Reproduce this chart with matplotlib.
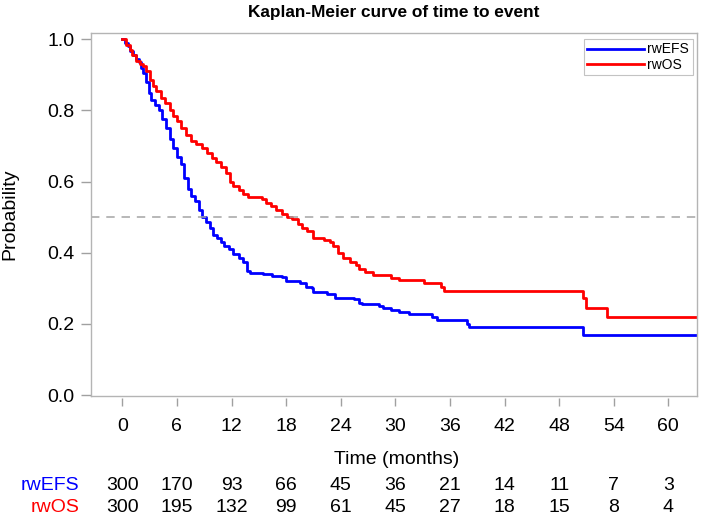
import matplotlib
matplotlib.use("Agg")
import matplotlib.pyplot as plt
import matplotlib.transforms as mtransforms
from matplotlib.lines import Line2D

plt.rcParams['font.family'] = ['Liberation Sans', 'DejaVu Sans']

# ---- data ----
efs_t = [0, 0.3, 0.6, 0.9, 1.2, 1.5, 1.8, 2.0, 2.3, 2.6, 2.9, 3.2, 3.6, 4.0, 4.4, 4.8,
         5.2, 5.6, 6.0, 6.4, 6.8, 7.2, 7.6, 8.0, 8.4, 8.8, 9.2, 9.6, 10.0, 10.4, 10.8,
         11.2, 11.7, 12.2, 12.8, 13.3, 13.7, 14.0, 15.5, 16.5, 17.6, 18.0, 19.5, 20.2,
         20.8, 21.0, 22.5, 23.4, 25.5, 26.0, 26.3, 28.2, 28.7, 29.5, 30.4, 31.5, 34.0,
         34.6, 37.9, 38.1, 50.6, 63.2]
efs_s = [1.0, 0.99, 0.98, 0.967, 0.955, 0.945, 0.935, 0.92, 0.905, 0.88, 0.85, 0.83,
         0.815, 0.80, 0.775, 0.75, 0.72, 0.695, 0.67, 0.65, 0.61, 0.58, 0.56, 0.545,
         0.52, 0.50, 0.485, 0.47, 0.45, 0.44, 0.43, 0.42, 0.41, 0.395, 0.385, 0.375,
         0.35, 0.343, 0.34, 0.335, 0.333, 0.32, 0.315, 0.305, 0.30, 0.29, 0.285, 0.273,
         0.27, 0.26, 0.255, 0.25, 0.245, 0.24, 0.234, 0.228, 0.22, 0.212, 0.20, 0.19,
         0.168, 0.168]

os_t = [0, 0.4, 0.8, 1.1, 1.5, 1.9, 2.3, 2.6, 3.0, 3.4, 3.7, 4.2, 4.7, 5.2, 5.6, 6.0,
        6.5, 7.0, 7.5, 8.1, 8.8, 9.3, 9.9, 10.3, 10.8, 11.4, 11.8, 12.2, 12.8, 13.3,
        13.8, 15.4, 15.8, 16.3, 16.9, 17.6, 18.1, 18.7, 19.3, 19.8, 20.3, 20.9, 22.2,
        22.8, 23.2, 23.7, 24.2, 25.0, 25.7, 26.0, 26.7, 27.5, 29.5, 30.4, 33.1, 35.0,
        35.3, 50.6, 51.0, 53.3, 63.2]
os_s = [1.0, 0.985, 0.97, 0.955, 0.94, 0.93, 0.925, 0.91, 0.885, 0.87, 0.855, 0.835,
        0.82, 0.80, 0.785, 0.77, 0.75, 0.73, 0.715, 0.705, 0.695, 0.68, 0.665, 0.655,
        0.64, 0.625, 0.60, 0.588, 0.575, 0.565, 0.557, 0.55, 0.54, 0.53, 0.52, 0.51,
        0.50, 0.495, 0.48, 0.47, 0.46, 0.44, 0.435, 0.43, 0.42, 0.40, 0.385, 0.375,
        0.365, 0.355, 0.345, 0.337, 0.33, 0.322, 0.314, 0.304, 0.293, 0.272, 0.245,
        0.218, 0.218]

x_ticks = [0, 6, 12, 18, 24, 30, 36, 42, 48, 54, 60]
y_ticks = [0.0, 0.2, 0.4, 0.6, 0.8, 1.0]
risk_efs = [300, 170, 93, 66, 45, 36, 21, 14, 11, 7, 3]
risk_os = [300, 195, 132, 99, 61, 45, 27, 18, 15, 8, 4]

W, H = 702, 518
L, R, T, B = 91, 697, 33, 395.5
fig = plt.figure(figsize=(W / 100, H / 100), dpi=100)
ax = fig.add_axes([L / W, 1 - B / H, (R - L) / W, (B - T) / H])

ax.step(efs_t, efs_s, where='post', color='#0000ff', lw=2.0, label='rwEFS')
ax.step(os_t, os_s, where='post', color='#ff0000', lw=2.0, label='rwOS')
ax.axhline(0.5, color='#a4a4a4', lw=1.1, ls=(0, (5.5, 4.5)))

ax.set_xlim(-3.44, 63.15)
ax.set_ylim(-0.0014, 1.0177)
ax.set_xticks(x_ticks)
ax.set_yticks(y_ticks)
ax.set_yticklabels([f"{v:.1f}" for v in y_ticks])

frame_c = '#b4b4b4'
for sp in ax.spines.values():
    sp.set_color(frame_c)
    sp.set_linewidth(1.0)
# x ticks hang slightly below the frame
ax.spines['bottom'].set_position(('outward', 2))
ax.spines['bottom'].set_visible(False)
ax.add_line(Line2D([0, 1], [0, 0], transform=ax.transAxes, color=frame_c,
                   lw=1.0, clip_on=False))

ax.tick_params(axis='both', colors='#a0a0a0', labelcolor='black', labelsize=14, width=1.0)
ax.tick_params(axis='x', length=6, pad=8.5)
ax.tick_params(axis='y', length=7, pad=5)

fig.text(10 / W, 1 - 214 / H, 'Probability', rotation=90, ha='center', va='center', fontsize=14)
fig.text((L + R) / 2 / W, 1 - 12 / H, 'Kaplan-Meier curve of time to event',
         ha='center', va='center', fontsize=12.4, fontweight='bold')
fig.text(396.5 / W, 1 - 459 / H, 'Time (months)', ha='center', va='center', fontsize=14)

trans = mtransforms.blended_transform_factory(ax.transData, fig.transFigure)
for x, a, b in zip(x_ticks, risk_efs, risk_os):
    ax.text(x, 1 - 485 / H, str(a), transform=trans, ha='center', va='center', fontsize=14)
    ax.text(x, 1 - 508 / H, str(b), transform=trans, ha='center', va='center', fontsize=14)
fig.text(79 / W, 1 - 485 / H, 'rwEFS', ha='right', va='center', fontsize=14, color='#0000ff')
fig.text(79 / W, 1 - 508 / H, 'rwOS', ha='right', va='center', fontsize=14, color='#ff0000')

leg = ax.legend(loc='upper right', bbox_to_anchor=((692.7 - L) / (R - L), (B - 39) / (B - T)),
                fontsize=10, frameon=True, fancybox=False, borderaxespad=0,
                handlelength=4.1, labelspacing=0.1, borderpad=0.25, handletextpad=0.25)
leg.get_frame().set_edgecolor(frame_c)
leg.get_frame().set_linewidth(0.8)

fig.savefig('out.png', dpi=100)
